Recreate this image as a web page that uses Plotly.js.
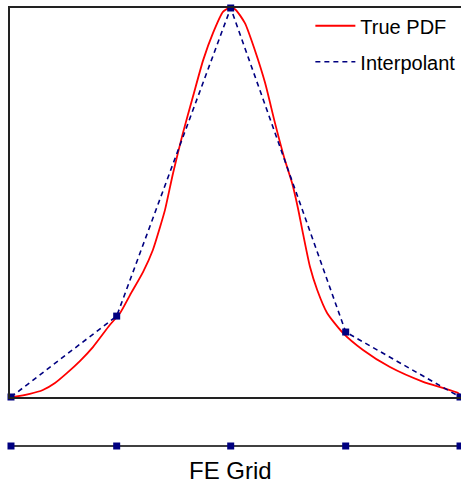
<!DOCTYPE html>
<html>
<head>
<meta charset="utf-8">
<script src="https://cdn.plot.ly/plotly-3.0.1.min.js"></script>
<style>html,body{margin:0;padding:0;background:#fff;}#chart{width:461px;height:487px;}</style>
</head>
<body>
<div id="chart"></div>
<script>
// FE grid nodes (normalized position) and interpolant values at nodes
const nodesX = [0, 0.2354, 0.4893, 0.7454, 1.0];
const nodesY = [0, 0.208, 1.0, 0.167, 0];

// True PDF samples
const pdfX = [0, 0.009, 0.042, 0.071, 0.098, 0.125, 0.154, 0.183, 0.220, 0.243, 0.265, 0.294, 0.316, 0.332, 0.343, 0.361, 0.383, 0.405, 0.428, 0.450, 0.472, 0.486, 0.499, 0.521, 0.543, 0.566, 0.588, 0.610, 0.626, 0.639, 0.650, 0.666, 0.682, 0.704, 0.739, 0.784, 0.844, 0.918, 0.996, 1.0];
const pdfY = [0, 0.001, 0.008, 0.018, 0.036, 0.062, 0.093, 0.129, 0.185, 0.216, 0.262, 0.321, 0.378, 0.437, 0.481, 0.576, 0.679, 0.771, 0.866, 0.936, 0.990, 1.0, 0.997, 0.961, 0.892, 0.807, 0.704, 0.609, 0.550, 0.486, 0.422, 0.334, 0.275, 0.216, 0.165, 0.121, 0.077, 0.039, 0.010, 0.003];

const feGridY = nodesX.map(() => 0);

const seriesNames = ['True PDF', 'Interpolant'];
const gridLabel = 'FE Grid';

const navy = '#000080';
const font = 'Liberation Sans, Arial, Helvetica, sans-serif';

const traces = [
  {
    x: pdfX, y: pdfY, type: 'scatter', mode: 'lines', name: seriesNames[0],
    line: {color: '#ff0000', width: 1.8, shape: 'spline', smoothing: 0.6},
    xaxis: 'x', yaxis: 'y', legendgroup: 'a', cliponaxis: false
  },
  {
    x: nodesX, y: nodesY, type: 'scatter', mode: 'lines', name: seriesNames[1],
    line: {color: navy, width: 1.6, dash: '5px,4px'},
    xaxis: 'x', yaxis: 'y', legendgroup: 'b', cliponaxis: false
  },
  {
    x: nodesX, y: nodesY, type: 'scatter', mode: 'markers', showlegend: false,
    marker: {symbol: 'square', size: 7, color: navy, line: {width: 0}},
    xaxis: 'x', yaxis: 'y', cliponaxis: false
  },
  {
    x: nodesX, y: feGridY, type: 'scatter', mode: 'lines+markers', showlegend: false,
    line: {color: '#000', width: 1.6},
    marker: {symbol: 'square', size: 7, color: navy, line: {width: 0}},
    xaxis: 'x2', yaxis: 'y2', cliponaxis: false
  }
];

const layout = {
  width: 461, height: 487,
  margin: {l: 10, r: 0, t: 8, b: 36, pad: 0},
  paper_bgcolor: '#fff', plot_bgcolor: 'rgba(0,0,0,0)',
  font: {family: font, size: 20, color: '#000'},
  showlegend: true,
  legend: {
    x: 0.666, xanchor: 'left', y: 1.004, yanchor: 'top',
    bgcolor: 'rgba(0,0,0,0)', borderwidth: 0,
    font: {family: font, size: 20, color: '#000'},
    itemwidth: 40, tracegroupgap: 7
  },
  xaxis: {
    domain: [0, 1], range: [-0.0022, 1.0022], anchor: 'y',
    showline: true, mirror: true, linecolor: '#222', linewidth: 2,
    showgrid: false, zeroline: false, showticklabels: false, ticks: ''
  },
  yaxis: {
    domain: [0.1219, 1], range: [0, 1], anchor: 'x',
    showline: true, mirror: false, linecolor: '#222', linewidth: 2,
    showgrid: false, zeroline: false, showticklabels: false, ticks: ''
  },
  xaxis2: {
    domain: [0, 1], range: [-0.0022, 1.0022], anchor: 'y2',
    showline: false, showgrid: false, zeroline: false, showticklabels: false, ticks: ''
  },
  yaxis2: {
    domain: [0, 0.0226], range: [-1, 1], anchor: 'x2',
    showline: false, showgrid: false, zeroline: false, showticklabels: false, ticks: ''
  },
  annotations: [{
    text: gridLabel, xref: 'paper', yref: 'paper', x: 0.49, y: -0.044,
    xanchor: 'center', yanchor: 'middle', showarrow: false,
    font: {family: font, size: 24, color: '#000'}
  }]
};

Plotly.newPlot('chart', traces, layout, {staticPlot: true, displayModeBar: false});
</script>
</body>
</html>
